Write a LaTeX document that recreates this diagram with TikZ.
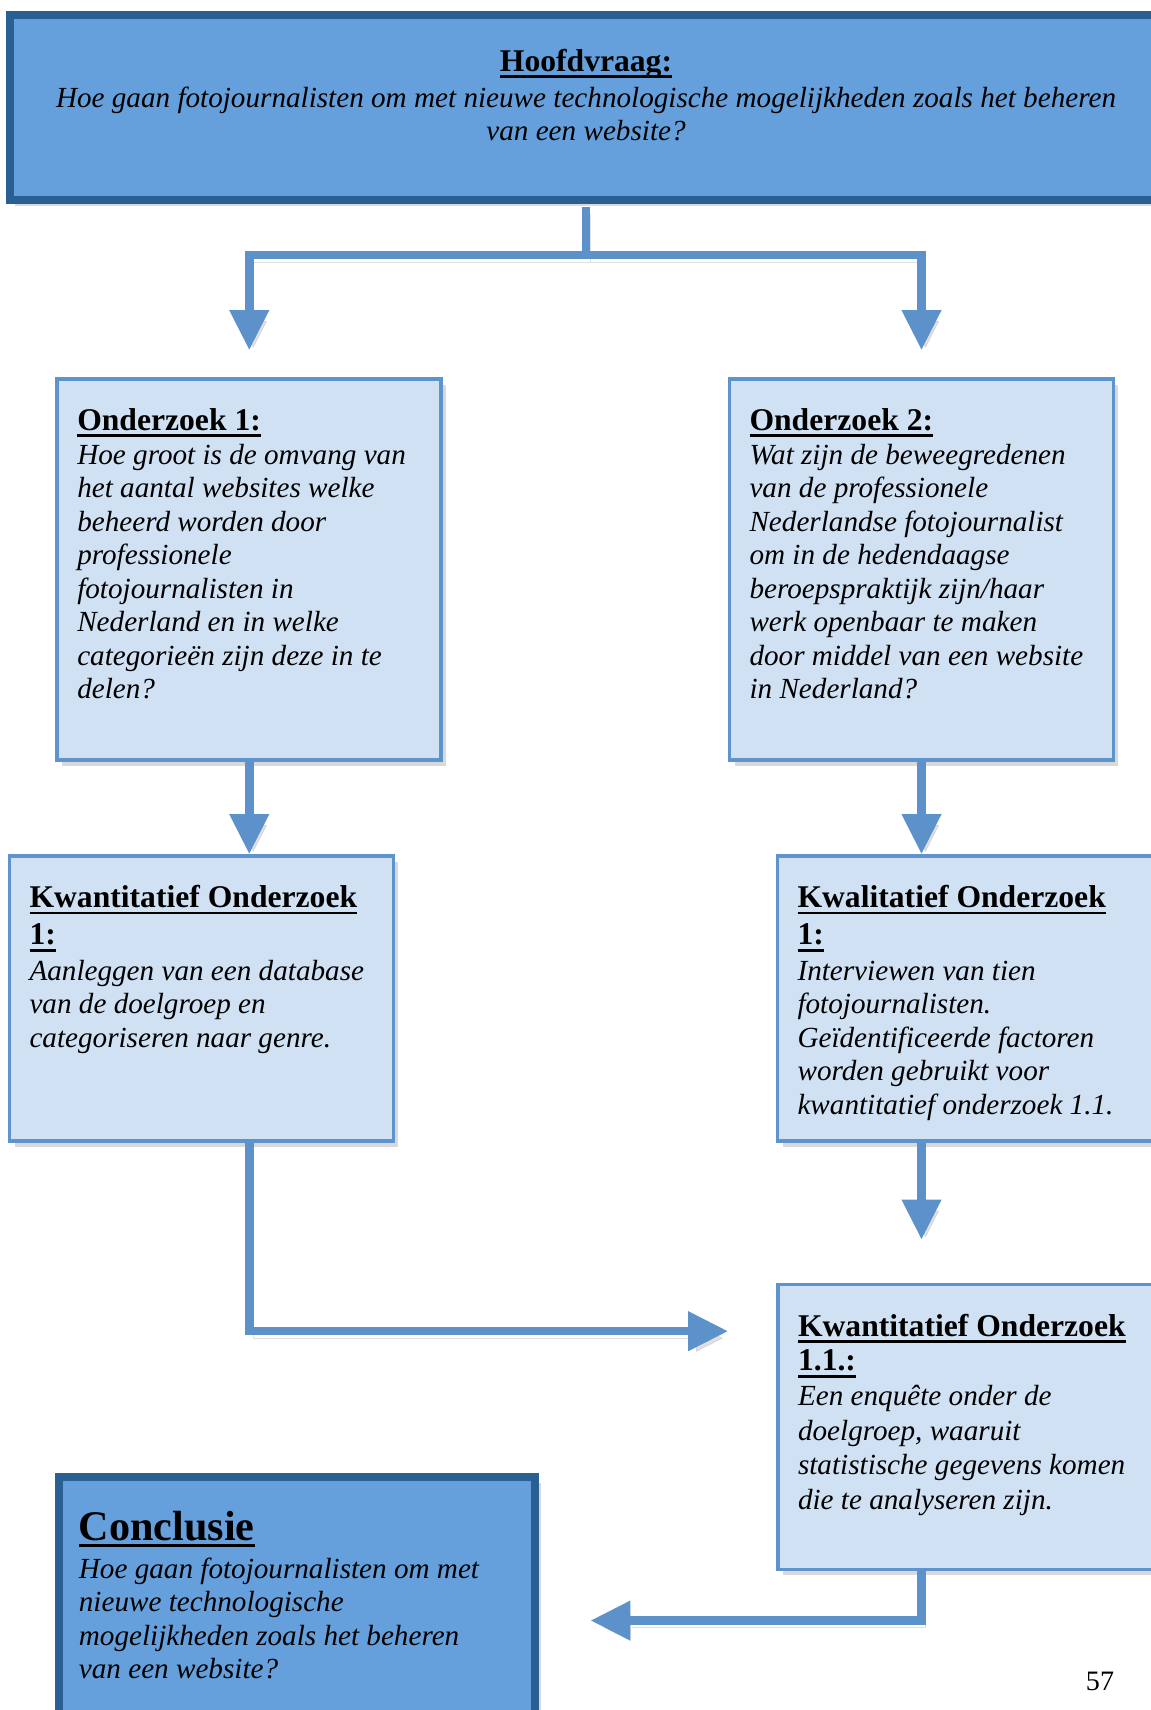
\documentclass[tikz,border=0pt]{standalone}
\usepackage{fontspec}
\setmainfont{Liberation Serif}
\definecolor{boxdark}{HTML}{2A5F93}
\definecolor{boxmid}{HTML}{65A0DC}
\definecolor{boxlight}{HTML}{D0E1F3}
\definecolor{boxedge}{HTML}{5E94CD}
\definecolor{arrowblue}{HTML}{5D91C9}
\usetikzlibrary{arrows.meta,positioning,calc,shadows}
\newsavebox{\streepbox}
\newcommand{\onderstreep}[1]{\sbox{\streepbox}{#1}\rlap{\rule[-3.8pt]{\wd\streepbox}{1.6pt}}\usebox{\streepbox}}
\newcommand{\kop}[1]{{\fontsize{18}{19.1}\selectfont\upshape\bfseries\onderstreep{#1}}}
\newcommand{\bodyfont}{\fontsize{16.6}{19.1}\selectfont\itshape}

\begin{document}
\begin{tikzpicture}[
  x=0.02cm, y=-0.02cm,
  questionbox/.style={rectangle, draw=boxdark, line width=0.14cm, fill=boxmid, drop shadow={shadow xshift=0.1cm, shadow yshift=-0.12cm, opacity=0.3}},
  stepbox/.style={rectangle, draw=boxedge, line width=0.074cm, fill=boxlight, minimum width=7.68cm, minimum height=5.7cm, drop shadow={shadow xshift=0.1cm, shadow yshift=-0.12cm, opacity=0.3}},
  innerframe/.style={draw=boxdark, line width=0.055cm},
  boxtext/.style={inner sep=0pt, align=left, font=\bodyfont},
  flowline/.style={draw=arrowblue, line width=0.17cm, preaction={draw=black!30, opacity=0.4, transform canvas={xshift=0.08cm, yshift=-0.14cm}}},
  flowarrow/.style={flowline, -{Triangle[width=0.75cm,length=0.8cm]}},
]
\useasboundingbox (0,0) rectangle (1151,1710);

% boxes
\node[questionbox, minimum width=23.06cm, minimum height=3.72cm] (hoofd) at (586,107.5) {};
\node[stepbox, minimum height=7.62cm] (ond1) at (249.25,569.5) {};
\node[stepbox, minimum height=7.62cm] (ond2) at (921.5,569.5) {};
\node[stepbox] (kwant1) at (201.5,998.5) {};
\node[stepbox] (kwal1) at (969.5,998.5) {};
\node[stepbox] (kwant11) at (970,1427) {};
\node[questionbox, minimum width=9.55cm, minimum height=5.6cm] (concl) at (297.25,1616.5) {};
\foreach \n in {hoofd, concl}
  \draw[innerframe] ([shift={(7,7)}]\n.north west) rectangle ([shift={(-7,-7)}]\n.south east);

% texts
\node[boxtext, align=center, below=0.75cm of hoofd.north] (hoofdtekst) {\kop{Hoofdvraag:}\\[1.5pt]Hoe gaan fotojournalisten om met nieuwe technologische mogelijkheden zoals het beheren\\van een website?};
\node[boxtext, below right=0.62cm and 0.43cm of ond1.north west] (ond1tekst) {\kop{Onderzoek 1:}\\Hoe groot is de omvang van\\het aantal websites welke\\beheerd worden door\\professionele\\fotojournalisten in\\Nederland en in welke\\categorieën zijn deze in te\\delen?};
\node[boxtext, below right=0.62cm and 0.43cm of ond2.north west] (ond2tekst) {\kop{Onderzoek 2:}\\Wat zijn de beweegredenen\\van de professionele\\Nederlandse fotojournalist\\om in de hedendaagse\\beroepspraktijk zijn/haar\\werk openbaar te maken\\door middel van een website\\in Nederland?};
\node[boxtext, below right=0.62cm and 0.43cm of kwant1.north west] (kwant1tekst) {\kop{Kwantitatief Onderzoek}\\[2pt]\kop{1:}\\[1pt]Aanleggen van een database\\van de doelgroep en\\categoriseren naar genre.};
\node[boxtext, below right=0.62cm and 0.43cm of kwal1.north west] (kwal1tekst) {\kop{Kwalitatief Onderzoek}\\[2pt]\kop{1:}\\[1pt]Interviewen van tien\\fotojournalisten.\\Geïdentificeerde factoren\\worden gebruikt voor\\kwantitatief onderzoek 1.1.};
\node[boxtext, below right=0.62cm and 0.43cm of kwant11.north west, font=\fontsize{16.6}{19.7}\selectfont\itshape] (kwant11tekst) {\kop{Kwantitatief Onderzoek}\\\kop{1.1.:}\\Een enquête onder de\\doelgroep, waaruit\\statistische gegevens komen\\die te analyseren zijn.};
\node[boxtext, below right=0.75cm and 0.47cm of concl.north west] (concltekst) {{\fontsize{24}{24}\selectfont\upshape\bfseries\onderstreep{Conclusie}}\\[2.5pt]Hoe gaan fotojournalisten om met\\nieuwe technologische\\mogelijkheden zoals het beheren\\van een website?};
\node[inner sep=0pt, font=\fontsize{16}{19}\selectfont] (paginanr) at (1100,1681) {57};

% connectors
\coordinate (fork) at (586,255);
\draw[flowline, shorten <=0.06cm] (hoofd.south) -- (fork);
\draw[flowarrow, shorten >=0.54cm] (fork) -| (ond1.north);
\draw[flowarrow, shorten >=0.54cm] (fork) -| (ond2.north);
\draw[flowarrow] (ond1.south) -- (ond1.south |- kwant1.north);
\draw[flowarrow] (ond2.south) -- (ond2.south |- kwal1.north);
\draw[flowarrow, shorten >=0.86cm] (ond2.south |- kwal1.south) -- (ond2.south |- kwant11.north);
\draw[flowarrow] (ond1.south |- kwant1.south) |- ([shift={(-48,48.5)}]kwant11.north west);
\draw[flowarrow] (ond2.south |- kwant11.south) |- ([shift={(51,4)}]concl.east);
\end{tikzpicture}
\end{document}
